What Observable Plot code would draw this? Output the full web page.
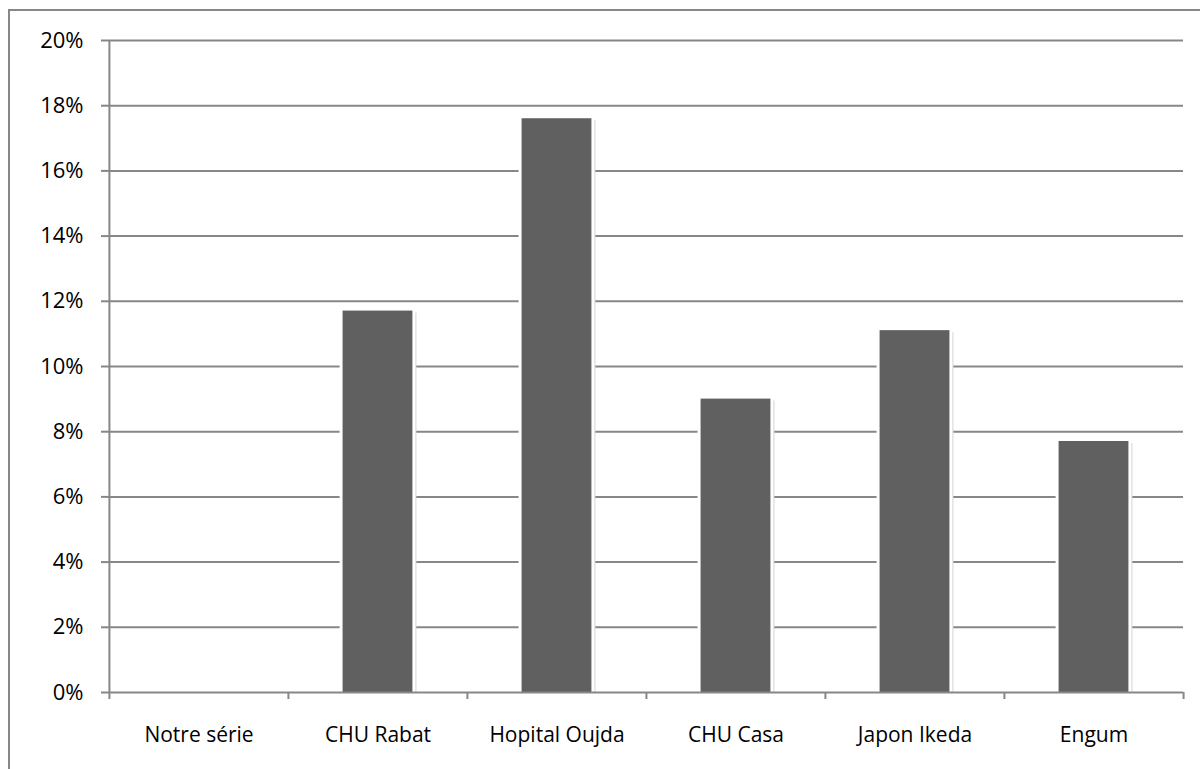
<!DOCTYPE html>
<html>
<head>
<meta charset="utf-8">
<script src="https://cdn.jsdelivr.net/npm/d3@7"></script>
<script src="https://cdn.jsdelivr.net/npm/@observablehq/plot@0.6"></script>
<style>
  html, body { margin: 0; padding: 0; background: #fff; overflow: hidden; width: 1200px; height: 769px; }
  #frame { position: absolute; left: 8px; top: 9px; width: 1400px; height: 1000px;
           border-left: 2px solid #878787; border-top: 2px solid #878787; }
  #chart { position: absolute; left: 0; top: 0; }
  #chart text { font-weight: 400; }
</style>
</head>
<body>
<div id="frame"></div>
<div id="chart"></div>
<script>
// Series and categories
const categories = ["Notre série", "CHU Rabat", "Hopital Oujda", "CHU Casa", "Japon Ikeda", "Engum"];
const rates = [0, 0.117, 0.176, 0.09, 0.111, 0.077];
const yTicks = [0, 0.02, 0.04, 0.06, 0.08, 0.10, 0.12, 0.14, 0.16, 0.18, 0.20];

const data = categories.map((name, i) => ({name, rate: rates[i]}));
const bars = data.filter(d => d.rate > 0);

// Layout
const W = 1200, H = 769;
const mL = 108, mR = 17, mT = 40, mB = 77;
const step = (W - mL - mR) / categories.length;
const barW = 70;
const inset = (step - barW) / 2;
const grey = "#878787";
const font = "'Open Sans', sans-serif";

const chart = Plot.plot({
  width: W,
  height: H,
  marginLeft: mL,
  marginRight: mR,
  marginTop: mT,
  marginBottom: mB,
  style: {fontFamily: font, fontSize: "21px", color: "#000", background: "transparent"},
  x: {domain: categories, padding: 0, label: null},
  y: {domain: [0, 0.2], label: null},
  marks: [
    // horizontal gridlines
    Plot.ruleY(yTicks.slice(1), {stroke: grey, strokeWidth: 2}),
    // soft shadow on the right of each bar
    Plot.barY(bars, {x: "name", y: "rate", fill: "#d4d4d4",
      insetLeft: inset + 4, insetRight: inset - 4, insetTop: 2}),
    // bars with a white halo that breaks the gridlines
    Plot.barY(bars, {x: "name", y: "rate", fill: "#606060", stroke: "#fff",
      strokeWidth: 6, paintOrder: "stroke", insetLeft: inset, insetRight: inset}),
    // value axis line and category axis line
    Plot.ruleX([categories[0]], {dx: -step / 2, y1: 0, y2: 0.2, stroke: grey, strokeWidth: 2}),
    Plot.ruleY([0], {stroke: grey, strokeWidth: 2}),
    // category boundary ticks
    Plot.ruleX(categories, {dx: -step / 2, y1: 0, y2: 0, insetBottom: -7, stroke: grey, strokeWidth: 2}),
    Plot.ruleX([categories[categories.length - 1]], {dx: step / 2, y1: 0, y2: 0, insetBottom: -7, stroke: grey, strokeWidth: 2}),
    Plot.axisY({ticks: yTicks, tickFormat: d3.format(".0%"), tickSize: 7, tickPadding: 18,
      stroke: grey, strokeWidth: 2, fontSize: 22, label: null}),
    Plot.axisX({tickSize: 0, tickPadding: 35, fontSize: 21, label: null})
  ]
});

document.getElementById("chart").appendChild(chart);
</script>
</body>
</html>
